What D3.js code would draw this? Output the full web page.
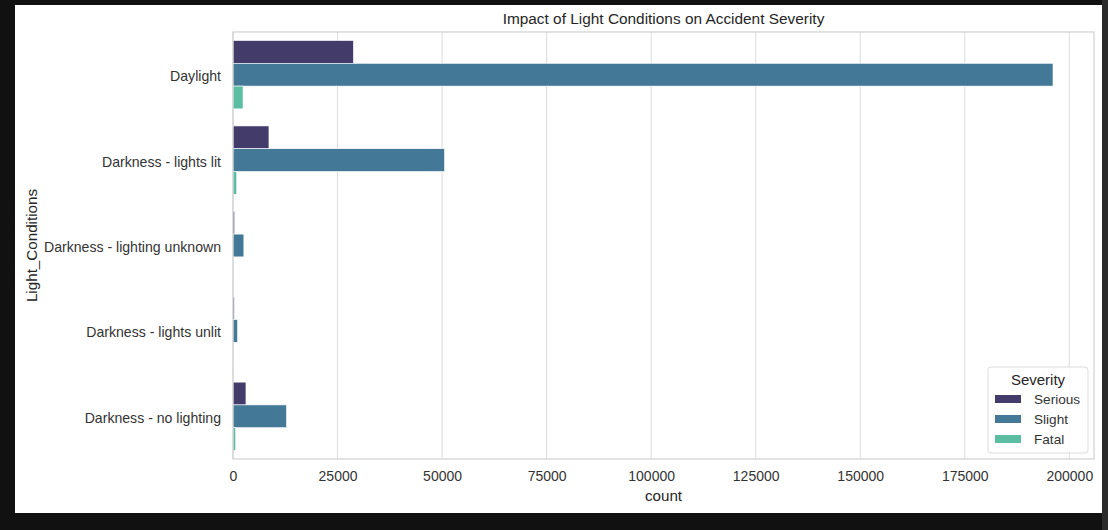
<!DOCTYPE html>
<html>
<head>
<meta charset="utf-8">
<script src="https://cdn.jsdelivr.net/npm/d3@7"></script>
<style>
  body { margin: 0; background: #111111; }
  svg { display: block; font-family: "Liberation Sans", Arial, sans-serif; }
</style>
</head>
<body>
<svg id="chart" width="1108" height="530"></svg>
<script>
// data
var conditions = ["Daylight", "Darkness - lights lit", "Darkness - lighting unknown",
                  "Darkness - lights unlit", "Darkness - no lighting"];
var severities = ["Serious", "Slight", "Fatal"];
var serious = [28800, 8600, 400, 300, 3100];
var slight  = [196100, 50600, 2600, 1100, 12800];
var fatal   = [2400, 900, 70, 50, 650];
var xTicks  = [0, 25000, 50000, 75000, 100000, 125000, 150000, 175000, 200000];
var colors  = ["#433c6b", "#437896", "#5bbea3"];

var series = [serious, slight, fatal];

var svg = d3.select("#chart");

// page background and white figure
svg.append("rect").attr("width", 1108).attr("height", 530).attr("fill", "#111111");
svg.append("rect").attr("x", 1102).attr("y", 0).attr("width", 6).attr("height", 530).attr("fill", "#2b2b2b");
svg.append("rect").attr("x", 15).attr("y", 5).attr("width", 1087).attr("height", 508).attr("fill", "#ffffff");

var margin = { left: 233, top: 32, right: 1094, bottom: 459 };

var x = d3.scaleLinear()
  .domain([0, d3.max(slight) * 1.05])
  .range([margin.left, margin.right]);

var y = d3.scaleBand()
  .domain(conditions)
  .range([margin.top, margin.bottom])
  .paddingInner(0).paddingOuter(0);

// grid lines
svg.append("g").selectAll("line")
  .data(xTicks)
  .enter().append("line")
  .attr("x1", function(d) { return x(d); })
  .attr("x2", function(d) { return x(d); })
  .attr("y1", margin.top)
  .attr("y2", margin.bottom)
  .attr("stroke", "#dcdcdc")
  .attr("stroke-width", 1);

// bars
var rows = [];
conditions.forEach(function(c, i) {
  severities.forEach(function(s, j) {
    rows.push({ cond: c, sev: s, value: series[j][i], color: colors[j] });
  });
});

var bw = y.bandwidth() * 0.8 / 3;
svg.append("g").selectAll("rect")
  .data(rows)
  .enter().append("rect")
  .attr("x", x(0))
  .attr("y", function(d) {
    return y(d.cond) + y.bandwidth() * 0.1 + severities.indexOf(d.sev) * bw;
  })
  .attr("width", function(d) { return x(d.value) - x(0); })
  .attr("height", bw)
  .attr("fill", function(d) { return d.color; })
  .attr("stroke", "#ffffff")
  .attr("stroke-width", 0.6);

// spines
svg.append("rect")
  .attr("x", margin.left).attr("y", margin.top)
  .attr("width", margin.right - margin.left)
  .attr("height", margin.bottom - margin.top)
  .attr("fill", "none")
  .attr("stroke", "#d0d0d0")
  .attr("stroke-width", 1.2);

// x axis
var xAxis = d3.axisBottom(x).tickValues(xTicks).tickSize(0).tickPadding(12)
  .tickFormat(d3.format("d"));
var gx = svg.append("g").attr("transform", "translate(0," + margin.bottom + ")").call(xAxis);
gx.select(".domain").remove();
gx.selectAll("text").attr("font-size", 14).attr("fill", "#333333")
  .style("font-family", "Liberation Sans, Arial, sans-serif");

// y axis
var yAxis = d3.axisLeft(y).tickSize(0).tickPadding(12);
var gy = svg.append("g").attr("transform", "translate(" + margin.left + ",2)").call(yAxis);
gy.select(".domain").remove();
gy.selectAll("text").attr("font-size", 14.1).attr("fill", "#333333")
  .style("font-family", "Liberation Sans, Arial, sans-serif");

// title and axis labels
svg.append("text")
  .attr("x", (margin.left + margin.right) / 2).attr("y", 24)
  .attr("text-anchor", "middle").attr("font-size", 15.4).attr("fill", "#262626")
  .text("Impact of Light Conditions on Accident Severity");

svg.append("text")
  .attr("x", (margin.left + margin.right) / 2).attr("y", 501)
  .attr("text-anchor", "middle").attr("font-size", 15.2).attr("fill", "#262626")
  .text("count");

svg.append("text")
  .attr("transform", "translate(37," + ((margin.top + margin.bottom) / 2) + ") rotate(-90)")
  .attr("text-anchor", "middle").attr("font-size", 15.2).attr("fill", "#262626")
  .text("Light_Conditions");

// legend
var lg = svg.append("g").attr("transform", "translate(988,367)");
lg.append("rect").attr("width", 100).attr("height", 86).attr("rx", 3)
  .attr("fill", "#ffffff").attr("fill-opacity", 0.8)
  .attr("stroke", "#dddddd");
lg.append("text").attr("x", 50).attr("y", 18).attr("text-anchor", "middle")
  .attr("font-size", 15).attr("fill", "#262626").text("Severity");
var item = lg.selectAll(".item").data(severities).enter().append("g")
  .attr("class", "item")
  .attr("transform", function(d, i) { return "translate(0," + (32 + i * 20) + ")"; });
item.append("rect").attr("x", 7).attr("y", -4).attr("width", 26).attr("height", 8)
  .attr("fill", function(d, i) { return colors[i]; });
item.append("text").attr("x", 46).attr("y", 5).attr("font-size", 13.6)
  .attr("fill", "#333333").text(function(d) { return d; });
</script>
</body>
</html>
